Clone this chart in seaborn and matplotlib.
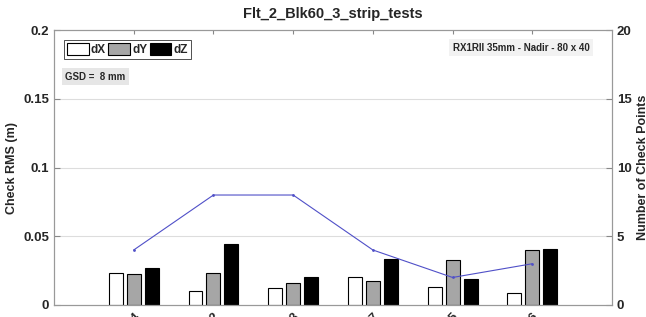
import matplotlib
matplotlib.use("Agg")
import matplotlib.pyplot as plt
import pandas as pd
import seaborn as sns

# data
tests = ["1_2_3_4", "1_2", "1_3", "2_3_4_7", "1_5", "2_6"]
dx = [0.0230, 0.0102, 0.0124, 0.0206, 0.0133, 0.0090]
dy = [0.0223, 0.0230, 0.0160, 0.0177, 0.0327, 0.0402]
dz = [0.0267, 0.0446, 0.0204, 0.0337, 0.0191, 0.0405]
n_check = [4, 8, 8, 4, 2, 3]

df = pd.DataFrame({"test": tests * 3,
                   "comp": ["dX"] * 6 + ["dY"] * 6 + ["dZ"] * 6,
                   "rms": dx + dy + dz})

sns.set_style("white")
plt.rcParams["font.family"] = ["Liberation Sans", "DejaVu Sans"]
plt.rcParams["font.weight"] = "bold"

fig = plt.figure(figsize=(6.46, 3.17), dpi=100)
ax = fig.add_axes([0.0836, 0.038, 0.8638, 0.867])

pal = {"dX": "white", "dY": "#a6a6a6", "dZ": "black"}
sns.barplot(data=df, x="test", y="rms", hue="comp", palette=pal, width=0.675,
            gap=0.22, edgecolor="black", linewidth=0.8, ax=ax, legend=True)

ax.set_ylim(0, 0.2)
ax.set_xlim(-1, 6)
ax.set_yticks([0, 0.05, 0.1, 0.15, 0.2])
ax.set_yticklabels(["0", "0.05", "0.1", "0.15", "0.2"], fontsize=9.5, fontweight="bold")
ax.set_ylabel("Check RMS (m)", fontsize=9, fontweight="bold")
ax.set_xlabel("")
ax.set_xticks(range(6))
ax.set_xticklabels(tests, rotation=45, ha="right", rotation_mode="anchor",
                   fontsize=9, fontweight="bold")
ax.tick_params(axis="x", pad=4, length=3, color="#888888", direction="in",
               top=True, bottom=True)
ax.tick_params(axis="y", length=4, color="#888888", direction="in", left=True)
for y in [0.05, 0.1, 0.15]:
    ax.axhline(y, color="#dddddd", lw=0.8, zorder=0)
for s in ax.spines.values():
    s.set_color("#999999")
    s.set_linewidth(0.8)
ax.set_title("Flt_2_Blk60_3_strip_tests", fontsize=10.5, fontweight="bold", pad=9)

leg = ax.legend(loc="upper left", ncol=3, fontsize=8.5, frameon=True, fancybox=False,
                edgecolor="black", handlelength=1.8, handleheight=1.2,
                columnspacing=0.2, handletextpad=0.2, borderpad=0.25,
                bbox_to_anchor=(0.008, 0.985))
leg.get_frame().set_linewidth(0.6)
for t in leg.get_texts():
    t.set_fontweight("bold")

ax.text(0.02, 0.83, "GSD =  8 mm", transform=ax.transAxes, fontsize=7,
        fontweight="bold", va="center",
        bbox=dict(facecolor="#e6e6e6", edgecolor="none", pad=2.5))
ax.text(0.96, 0.935, "RX1RII 35mm - Nadir - 80 x 40", transform=ax.transAxes,
        fontsize=7, fontweight="bold", ha="right", va="center",
        bbox=dict(facecolor="#f2f2f2", edgecolor="none", pad=2.5))

ax2 = ax.twinx()
sns.lineplot(x=list(range(6)), y=n_check, color="#5050c8", lw=0.8, marker="o",
             markersize=2, markeredgewidth=0, ax=ax2)
ax2.set_ylim(0, 20)
ax2.set_yticks([0, 5, 10, 15, 20])
ax2.set_yticklabels(["0", "5", "10", "15", "20"], fontsize=9.5, fontweight="bold")
ax2.set_ylabel("Number of Check Points", fontsize=9, fontweight="bold")
ax2.tick_params(axis="y", length=4, color="#888888", direction="in", right=True)
for s in ax2.spines.values():
    s.set_color("#999999")
    s.set_linewidth(0.8)

fig.savefig("out.png", dpi=100)
